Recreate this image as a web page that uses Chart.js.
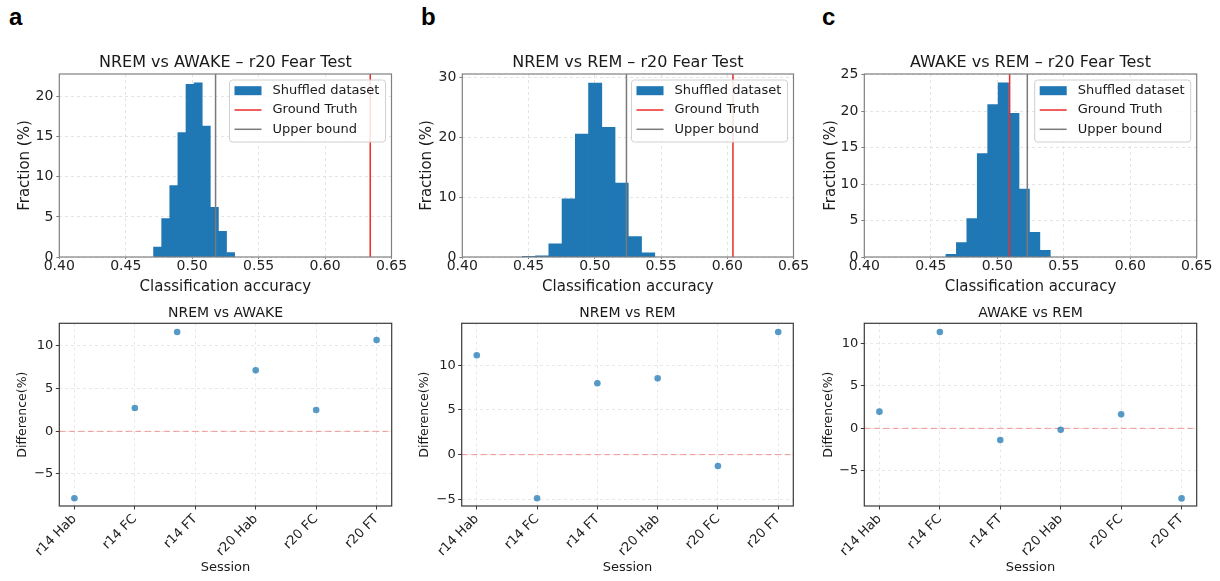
<!DOCTYPE html>
<html>
<head>
<meta charset="utf-8">
<title>Shuffled vs ground truth classification accuracy</title>
<script src="https://cdn.jsdelivr.net/npm/chart.js@4.4.1/dist/chart.umd.min.js"></script>
<style>
  html, body { margin: 0; padding: 0; background: #fff; }
  body { width: 1220px; height: 581px; position: relative; overflow: hidden; }
  canvas { position: absolute; }
  .letter { position: absolute; font: bold 24px "Liberation Sans", Arial, sans-serif; line-height: 1; color: #000; }
</style>
</head>
<body>
<div class="letter" style="left:9px;top:5px">a</div>
<div class="letter" style="left:421px;top:5px">b</div>
<div class="letter" style="left:822px;top:5px">c</div>

<canvas id="histA"></canvas>
<canvas id="histB"></canvas>
<canvas id="histC"></canvas>
<canvas id="diffA"></canvas>
<canvas id="diffB"></canvas>
<canvas id="diffC"></canvas>

<script>
// === data: histograms (top row) ===
const accTicks = [0.40, 0.45, 0.50, 0.55, 0.60, 0.65];

// NREM vs AWAKE
const binsNremAwake = [0.4740, 0.4801, 0.4862, 0.4923, 0.4984, 0.5045, 0.5106, 0.5167, 0.5228, 0.5289];
const fracNremAwake = [1.25, 4.8, 8.9, 15.5, 21.5, 21.7, 16.3, 6.2, 3.2, 0.55];
const truthNremAwake = 0.634;
const boundNremAwake = 0.5176;
const fracTicksNremAwake = [0, 5, 10, 15, 20];

// NREM vs REM
const binsNremRem = [0.4503, 0.4603, 0.4703, 0.4803, 0.4903, 0.5003, 0.5103, 0.5203, 0.5303, 0.5403];
const fracNremRem = [0.1, 0.2, 2.2, 9.7, 20.5, 29.0, 21.6, 12.3, 3.4, 0.7];
const truthNremRem = 0.6043;
const boundNremRem = 0.5239;
const fracTicksNremRem = [0, 10, 20, 30];

// AWAKE vs REM
const binsAwakeRem = [0.46533, 0.47318, 0.48103, 0.48888, 0.49673, 0.50458, 0.51243, 0.52028, 0.52813, 0.53598];
const fracAwakeRem = [0.37, 1.97, 5.27, 14.2, 20.9, 23.9, 19.7, 9.3, 3.4, 0.9];
const truthAwakeRem = 0.5093;
const boundAwakeRem = 0.5226;
const fracTicksAwakeRem = [0, 5, 10, 15, 20, 25];

const legendLabels = ['Shuffled dataset', 'Ground Truth', 'Upper bound'];

// === data: difference per session (bottom row) ===
const sessions = ['r14 Hab', 'r14 FC', 'r14 FT', 'r20 Hab', 'r20 FC', 'r20 FT'];
const diffTicks = [-5, 0, 5, 10];

const diffNremAwakeX = [0, 1, 1.7, 3, 4, 5];
const diffNremAwake = [-7.85, 2.73, 11.64, 7.15, 2.5, 10.7];

const diffNremRemX = [0, 1, 2, 3, 4, 5];
const diffNremRem = [11.12, -4.89, 7.99, 8.54, -1.27, 13.73];

const diffAwakeRemX = [0, 1, 2, 3, 4, 5];
const diffAwakeRem = [1.97, 11.38, -1.38, -0.16, 1.65, -8.27];

// === styles ===
const FONT = 'DejaVu Sans';
const barColor = '#1f77b4';
const truthColor = '#ee2a2a';
const boundColor = '#7a7a7a';
const dotColor = 'rgba(31, 119, 180, 0.75)';
const zeroColor = 'rgba(240, 110, 110, 0.7)';

Chart.defaults.font.family = FONT;

function minusFmt(v) {
    return v < 0 ? '\u2212' + Math.abs(v) : String(v);
}

// legend box drawn inside the plot, top right
function drawLegend(ctx, a) {
    const w = 156, h = 62;
    const x = a.right - 6 - w;
    const y = a.top + 6;
    const r = 3;
    ctx.beginPath();
    ctx.moveTo(x + r, y);
    ctx.lineTo(x + w - r, y);
    ctx.arcTo(x + w, y, x + w, y + r, r);
    ctx.lineTo(x + w, y + h - r);
    ctx.arcTo(x + w, y + h, x + w - r, y + h, r);
    ctx.lineTo(x + r, y + h);
    ctx.arcTo(x, y + h, x, y + h - r, r);
    ctx.lineTo(x, y + r);
    ctx.arcTo(x, y, x + r, y, r);
    ctx.closePath();
    ctx.fillStyle = 'rgba(255,255,255,0.85)';
    ctx.fill();
    ctx.strokeStyle = '#d0d0d0';
    ctx.lineWidth = 1;
    ctx.stroke();

    const rows = [y + 10.7, y + 30, y + 49.3];
    ctx.fillStyle = barColor;
    ctx.fillRect(x + 5, rows[0] - 4.5, 27, 9);
    ctx.lineWidth = 1.5;
    ctx.strokeStyle = truthColor;
    ctx.beginPath(); ctx.moveTo(x + 5, rows[1]); ctx.lineTo(x + 32, rows[1]); ctx.stroke();
    ctx.strokeStyle = boundColor;
    ctx.beginPath(); ctx.moveTo(x + 5, rows[2]); ctx.lineTo(x + 32, rows[2]); ctx.stroke();

    ctx.fillStyle = '#1a1a1a';
    ctx.font = '13px "' + FONT + '"';
    ctx.textAlign = 'left';
    ctx.textBaseline = 'middle';
    legendLabels.forEach((t, i) => ctx.fillText(t, x + 43, rows[i]));
}

const panelPlugin = {
    id: 'panel',
    afterDatasetsDraw(chart, args, o) {
        const { ctx, chartArea: a } = chart;
        ctx.save();
        ctx.setLineDash([]);
        if (o.legend) drawLegend(ctx, a);
        ctx.strokeStyle = o.frameColor;
        ctx.lineWidth = o.frameWidth;
        ctx.strokeRect(a.left, a.top, a.right - a.left, a.bottom - a.top);
        ctx.fillStyle = '#1a1a1a';
        ctx.font = o.titleSize + 'px "' + FONT + '"';
        ctx.textAlign = 'center';
        ctx.textBaseline = 'middle';
        ctx.fillText(o.title, (a.left + a.right) / 2, a.top - o.titleGap);
        ctx.restore();
    }
};

// === top row: histograms ===
const histPanels = [
    { id: 'histA', left: 0, caLeft: 59.3, caRight: 391.5, yTitleX: 25,
      title: 'NREM vs AWAKE \u2013 r20 Fear Test', bins: binsNremAwake, frac: fracNremAwake,
      truth: truthNremAwake, bound: boundNremAwake, yTicks: fracTicksNremAwake, yMax: 22.8 },
    { id: 'histB', left: 405, caLeft: 462.3, caRight: 793.5, yTitleX: 426.7,
      title: 'NREM vs REM \u2013 r20 Fear Test', bins: binsNremRem, frac: fracNremRem,
      truth: truthNremRem, bound: boundNremRem, yTicks: fracTicksNremRem, yMax: 30.5 },
    { id: 'histC', left: 810, caLeft: 864.3, caRight: 1196.7, yTitleX: 830.7,
      title: 'AWAKE vs REM \u2013 r20 Fear Test', bins: binsAwakeRem, frac: fracAwakeRem,
      truth: truthAwakeRem, bound: boundAwakeRem, yTicks: fracTicksAwakeRem, yMax: 25.1 },
];

function buildHist(p) {
    const W = 410, H = 270, top = 30, caTop = 74, caBottom = 257;
    const cv = document.getElementById(p.id);
    cv.width = W; cv.height = H;
    cv.style.left = p.left + 'px';
    cv.style.top = top + 'px';

    new Chart(cv, {
        type: 'bar',
        data: {
            datasets: [
                { type: 'line', label: legendLabels[1],
                  data: [{ x: p.truth, y: 0 }, { x: p.truth, y: p.yMax }],
                  borderColor: truthColor, borderWidth: 1.5, pointRadius: 0, order: 0 },
                { type: 'line', label: legendLabels[2],
                  data: [{ x: p.bound, y: 0 }, { x: p.bound, y: p.yMax }],
                  borderColor: boundColor, borderWidth: 1.5, pointRadius: 0, order: 0 },
                { type: 'bar', label: legendLabels[0],
                  data: p.bins.map((b, i) => ({ x: b, y: p.frac[i] })),
                  backgroundColor: barColor, borderWidth: 0,
                  barPercentage: 1, categoryPercentage: 1, order: 1 },
            ]
        },
        options: {
            responsive: false,
            animation: false,
            devicePixelRatio: 1,
            layout: { padding: { left: 0, top: caTop - top, right: p.left + W - p.caRight, bottom: 0 } },
            plugins: {
                legend: { display: false },
                tooltip: { enabled: false },
                panel: { title: p.title, titleSize: 16, titleGap: 10.7, legend: true,
                         frameColor: '#808080', frameWidth: 1.2 },
            },
            scales: {
                x: {
                    type: 'linear', min: 0.40, max: 0.65, offset: false,
                    afterBuildTicks: s => { s.ticks = accTicks.map(v => ({ value: v })); },
                    afterFit: s => { s.height = top + H - caBottom; },
                    ticks: { font: { size: 14, lineHeight: 1 }, color: '#222', padding: 0,
                             maxRotation: 0, autoSkip: false, callback: v => v.toFixed(2) },
                    grid: { color: '#dddddd', lineWidth: 0.8, offset: false, tickLength: 2,
                            tickColor: '#808080', tickWidth: 1, tickBorderDash: [] },
                    border: { display: false, dash: [3, 3] },
                    title: { display: true, text: 'Classification accuracy', color: '#1a1a1a',
                             font: { size: 15 }, padding: { top: 0, bottom: 4.3 } },
                },
                y: {
                    min: 0, max: p.yMax,
                    afterBuildTicks: s => { s.ticks = p.yTicks.map(v => ({ value: v })); },
                    afterFit: s => { s.width = p.caLeft - p.left; },
                    ticks: { font: { size: 14 }, color: '#222', padding: 3, autoSkip: false },
                    grid: { color: '#dddddd', lineWidth: 0.8, tickLength: 3,
                            tickColor: '#808080', tickWidth: 1, tickBorderDash: [] },
                    border: { display: false, dash: [3, 3] },
                    title: { display: true, text: 'Fraction (%)', color: '#1a1a1a',
                             font: { size: 15 }, padding: { top: p.yTitleX - p.left - 9, bottom: 0 } },
                },
            },
        },
        plugins: [panelPlugin],
    });
}

// === bottom row: difference scatter ===
const diffPanels = [
    { id: 'diffA', left: 0, caLeft: 59.3, caRight: 391.7, yTitleX: 22.7, title: 'NREM vs AWAKE',
      xs: diffNremAwakeX, ys: diffNremAwake, yMin: -8.75, yMax: 12.66 },
    { id: 'diffB', left: 405, caLeft: 461.7, caRight: 793.3, yTitleX: 425, title: 'NREM vs REM',
      xs: diffNremRemX, ys: diffNremRem, yMin: -5.75, yMax: 14.7 },
    { id: 'diffC', left: 810, caLeft: 864.3, caRight: 1196.7, yTitleX: 828.3, title: 'AWAKE vs REM',
      xs: diffAwakeRemX, ys: diffAwakeRem, yMin: -9.17, yMax: 12.4 },
];

function buildDiff(p) {
    const W = 410, H = 285, top = 296, caTop = 323.3, caBottom = 506;
    const xMin = -0.25, xMax = 5.25;
    const cv = document.getElementById(p.id);
    cv.width = W; cv.height = H;
    cv.style.left = p.left + 'px';
    cv.style.top = top + 'px';

    new Chart(cv, {
        type: 'scatter',
        data: {
            datasets: [
                { type: 'line', showLine: true,
                  data: [{ x: xMin, y: 0 }, { x: xMax, y: 0 }],
                  borderColor: zeroColor, borderWidth: 1, borderDash: [6, 3.5],
                  pointRadius: 0, order: 1 },
                { data: p.xs.map((x, i) => ({ x: x, y: p.ys[i] })),
                  backgroundColor: dotColor, borderWidth: 0, pointRadius: 3.3, order: 0 },
            ]
        },
        options: {
            responsive: false,
            animation: false,
            devicePixelRatio: 1,
            layout: { padding: { left: 0, top: caTop - top, right: p.left + W - p.caRight, bottom: 0 } },
            plugins: {
                legend: { display: false },
                tooltip: { enabled: false },
                panel: { title: p.title, titleSize: 14, titleGap: 10, legend: false,
                         frameColor: '#3a3a3a', frameWidth: 1.2 },
            },
            scales: {
                x: {
                    type: 'linear', min: xMin, max: xMax, offset: false,
                    afterBuildTicks: s => { s.ticks = sessions.map((c, i) => ({ value: i })); },
                    afterFit: s => { s.height = top + H - caBottom; },
                    ticks: { font: { size: 13 }, color: '#222', padding: 2,
                             minRotation: 45, maxRotation: 45, autoSkip: false,
                             callback: (v, i) => sessions[i] },
                    grid: { color: '#e2e2e2', lineWidth: 0.8, tickLength: 3.5,
                            tickColor: '#3a3a3a', tickWidth: 1, tickBorderDash: [] },
                    border: { display: false, dash: [3, 3] },
                    title: { display: true, text: 'Session', color: '#1a1a1a',
                             font: { size: 13 }, padding: { top: 0, bottom: 5.2 } },
                },
                y: {
                    min: p.yMin, max: p.yMax,
                    afterBuildTicks: s => { s.ticks = diffTicks.map(v => ({ value: v })); },
                    afterFit: s => { s.width = p.caLeft - p.left; },
                    ticks: { font: { size: 13 }, color: '#222', padding: 2.5, autoSkip: false,
                             callback: v => minusFmt(v) },
                    grid: { color: '#e2e2e2', lineWidth: 0.8, tickLength: 3.5,
                            tickColor: '#3a3a3a', tickWidth: 1, tickBorderDash: [] },
                    border: { display: false, dash: [3, 3] },
                    title: { display: true, text: 'Difference(%)', color: '#1a1a1a',
                             font: { size: 12.5 }, padding: { top: p.yTitleX - p.left - 7.5, bottom: 0 } },
                },
            },
        },
        plugins: [panelPlugin],
    });
}

histPanels.forEach(buildHist);
diffPanels.forEach(buildDiff);
</script>
</body>
</html>
